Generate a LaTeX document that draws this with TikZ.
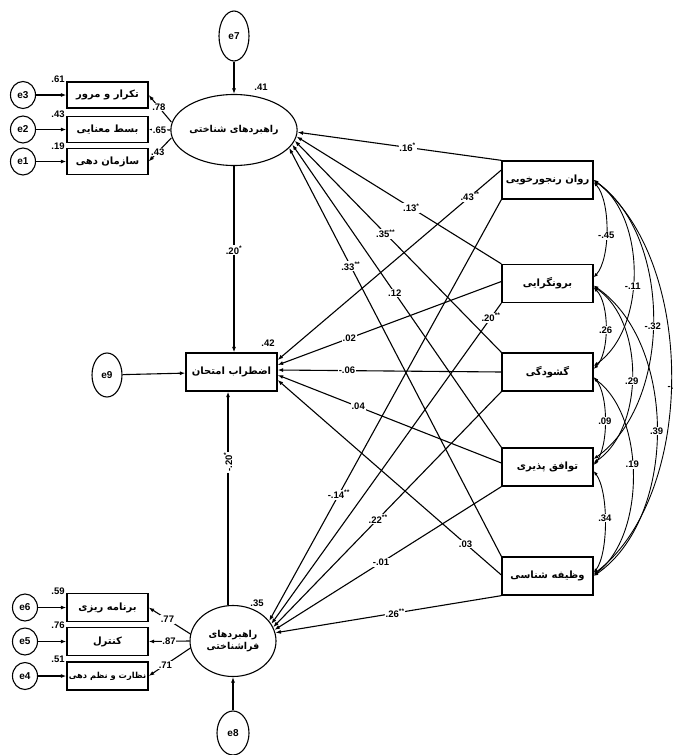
\documentclass[tikz,border=0pt]{standalone}
\usepackage{fontspec}
\setmainfont{Liberation Sans}
\newfontfamily\fa[Script=Arabic]{DejaVu Sans}
\TeXXeTstate=1
\usetikzlibrary{shapes.geometric,arrows.meta,calc}
\newcommand{\fat}[1]{{\fa\bfseries\beginR #1\endR}}
\newcommand{\sg}{\textsuperscript{*}}
\newcommand{\dsg}{\textsuperscript{**}}
\tikzset{
  lat/.style={ellipse, draw, line width=1.1pt, minimum width=86pt, minimum height=71pt, inner sep=0pt, font=\fontsize{9.5}{12}\selectfont},
  obs/.style={rectangle, draw, line width=1.3pt, minimum width=91pt, minimum height=38pt, inner sep=1pt, font=\fontsize{10}{12}\selectfont},
  ind/.style={rectangle, draw, line width=1.3pt, minimum width=81pt, minimum height=26pt, inner sep=1pt, font=\fontsize{10}{12}\selectfont},
  err/.style={ellipse, draw, line width=1.1pt, minimum width=25pt, minimum height=27pt, inner sep=0pt, font=\bfseries\fontsize{10}{11}\selectfont},
  lbl/.style={fill=white, inner sep=0.8pt, font=\bfseries\fontsize{9.5}{10}\selectfont},
  plain/.style={inner sep=0.5pt, font=\bfseries\fontsize{9.5}{10}\selectfont},
  pth/.style={line width=1.1pt, -{Latex[length=5.5pt,width=4pt]}},
  cor/.style={line width=0.9pt, {Latex[length=4.5pt,width=3.5pt]}-{Latex[length=4.5pt,width=3.5pt]}},
}
\begin{document}
\begin{tikzpicture}[x=1pt,y=-1pt]
\useasboundingbox (0,0) rectangle (674,755);

% latent variables
\node[lat] (U) at (234,130) {\fat{راهبردهای شناختی}};
\node[lat, align=center] (L) at (233,641) {\fat{راهبردهای}\\\fat{فراشناختی}};
\node[obs] (M) at (231.5,372) {\fat{اضطراب امتحان}};

% error terms
\node[err, minimum width=30pt, minimum height=50pt] (e7) at (234,36) {e7};
\node[err, minimum width=30pt, minimum height=44pt] (e9) at (107,375) {e9};
\node[err, minimum width=32pt, minimum height=44pt] (e8) at (233,733) {e8};
\node[err] (e3) at (23,95) {e3};
\node[err] (e2) at (23,129.5) {e2};
\node[err] (e1) at (23,161.5) {e1};
\node[err] (e6) at (25,607.5) {e6};
\node[err] (e5) at (25,641.5) {e5};
\node[err] (e4) at (25,676) {e4};

% indicators
\node[ind] (I1) at (107.5,95) {\fat{تکرار و مرور}};
\node[ind] (I2) at (107.5,129.5) {\fat{بسط معنایی}};
\node[ind] (I3) at (107.5,161.5) {\fat{سازمان دهی}};
\node[ind, minimum height=28pt] (I4) at (107.5,607.5) {\fat{برنامه ریزی}};
\node[ind, minimum height=28pt] (I5) at (107.5,641.5) {\fat{کنترل}};
\node[ind, minimum height=28pt, font=\fontsize{8.3}{10}\selectfont] (I6) at (107.5,676) {\fat{نظارت و نظم دهی}};

% personality traits
\node[obs] (R1) at (547.5,180) {\fat{روان رنجورخویی}};
\node[obs] (R2) at (547.5,283.5) {\fat{برونگرایی}};
\node[obs] (R3) at (547.5,372) {\fat{گشودگی}};
\node[obs] (R4) at (547.5,467) {\fat{توافق پذیری}};
\node[obs] (R5) at (547.5,576) {\fat{وظیفه شناسی}};

% R-square labels
\node[plain] (r2U) at (261,87) {.41};
\node[plain] (r2M) at (268,343) {.42};
\node[plain] (r2L) at (257,603) {.35};
\node[plain] (r2I1) at (58,79) {.61};
\node[plain] (r2I2) at (58,114) {.43};
\node[plain] (r2I3) at (58,146) {.19};
\node[plain] (r2I4) at (58,591) {.59};
\node[plain] (r2I5) at (58,625) {.76};
\node[plain] (r2I6) at (58,659) {.51};

% error arrows
\draw[pth] (e7) -- (U);
\draw[pth] (e8) -- (L);
\draw[pth] (e9) -- (M);
\draw[pth] (e3) -- (I1);
\draw[pth] (e2) -- (I2);
\draw[pth] (e1) -- (I3);
\draw[pth] (e6) -- (I4);
\draw[pth] (e5) -- (I5);
\draw[pth] (e4) -- (I6);

% loadings
\draw[pth] ($(U.west)+(1,-8)$) -- (I1.east) node[lbl, pos=0.55] {.78};
\draw[pth] (U.west) -- (I2.east) node[lbl, pos=0.5] {.65};
\draw[pth] ($(U.west)+(1,8)$) -- (I3.east) node[lbl, pos=0.6] {.43};
\draw[pth] ($(L.west)+(1,-7)$) -- (I4.east) node[lbl, pos=0.55] {.77};
\draw[pth] (L.west) -- (I5.east) node[lbl, pos=0.5] {.87};
\draw[pth] ($(L.west)+(1,7)$) -- (I6.east) node[lbl, pos=0.6] {.71};

% latent to test anxiety
\draw[pth] (U.south) -- (U.south |- M.north) node[lbl, pos=0.45] {.20\sg};
\draw[pth] ([xshift=-5pt]L.north) -- ([xshift=-5pt]L.north |- M.south) node[lbl, pos=0.67, rotate=90] {-.20\sg};

% traits -> cognitive strategies
\draw[pth] (R1.north west) -- (U.-2) node[lbl, pos=0.46] {.16\sg};
\draw[pth] (R2.north west) -- (U.-6) node[lbl, pos=0.44] {.13\sg};
\draw[pth] (R3.north west) -- (U.-10) node[lbl, pos=0.56] {.35\dsg};
\draw[pth] (R4.north west) -- (U.-14) node[lbl, pos=0.51] {.12};
\draw[pth] (R5.north west) -- (U.-18) node[lbl, pos=0.71] {.33\dsg};

% traits -> test anxiety
\draw[pth] ($(R1.west)+(0,-10)$) -- ($(M.east)+(0,-12)$) node[lbl, pos=0.14] {.43\dsg};
\draw[pth] ($(R2.west)+(0,-2)$) -- ($(M.east)+(0,-7)$) node[lbl, pos=0.68] {.02};
\draw[pth] (R3.west) -- ($(M.east)+(0,-2)$) node[lbl, pos=0.69] {-.06};
\draw[pth] ($(R4.west)+(0,-4)$) -- ($(M.east)+(0,3)$) node[lbl, pos=0.64] {.04};
\draw[pth] ($(R5.west)+(0,-1)$) -- ($(M.east)+(0,8)$) node[lbl, pos=0.16] {.03};

% traits -> metacognitive strategies
\draw[pth] (R1.south west) -- (L.29) node[lbl, pos=0.70] {-.14\dsg};
\draw[pth] (R2.south west) -- (L.24) node[lbl, pos=0.045] {.20\dsg};
\draw[pth] (R3.south west) -- (L.19) node[lbl, pos=0.54] {.22\dsg};
\draw[pth] (R4.south west) -- (L.15) node[lbl, pos=0.53] {-.01};
\draw[pth] (R5.south west) -- (L.11) node[lbl, pos=0.47] {.26\dsg};

% correlations among traits
\draw[cor] ($(R1.east)+(0,2)$) .. controls +(17,19) and +(17,-19) .. ($(R2.east)+(0,-6)$) node[lbl, pos=0.55] {-.45};
\draw[cor] (R1.east) .. controls +(53,37) and +(53,-37) .. ($(R3.east)+(0,-6)$) node[lbl, pos=0.56] {-.11};
\draw[cor] (R1.east) .. controls +(79,56) and +(79,-56) .. ($(R4.east)+(0,-8)$) node[lbl, pos=0.52] {-.32};
\draw[cor] (R1.east) .. controls +(103,79) and +(103,-79) .. ($(R5.east)+(0,-2)$);
\node[plain, anchor=west] (c15) at (667,388) {-.};
\draw[cor] ($(R2.east)+(0,4)$) .. controls +(16,16) and +(16,-16) .. ($(R3.east)+(0,-3)$) node[lbl, pos=0.52] {.26};
\draw[cor] ($(R2.east)+(0,3)$) .. controls +(51,35) and +(51,-35) .. ($(R4.east)+(0,-4)$) node[lbl, pos=0.53] {.29};
\draw[cor] ($(R2.east)+(0,2)$) .. controls +(84,58) and +(84,-58) .. (R5.east) node[lbl, pos=0.5] {.39};
\draw[cor] ($(R3.east)+(0,5)$) .. controls +(15,18) and +(15,-18) .. ($(R4.east)+(0,-2)$) node[lbl, pos=0.5] {.09};
\draw[cor] ($(R3.east)+(0,6)$) .. controls +(52,39) and +(52,-39) .. ($(R5.east)+(0,-1)$) node[lbl, pos=0.45] {.19};
\draw[cor] ($(R4.east)+(0,4)$) .. controls +(15,20) and +(15,-20) .. ($(R5.east)+(0,-3)$) node[lbl, pos=0.47] {.34};
\end{tikzpicture}
\end{document}
